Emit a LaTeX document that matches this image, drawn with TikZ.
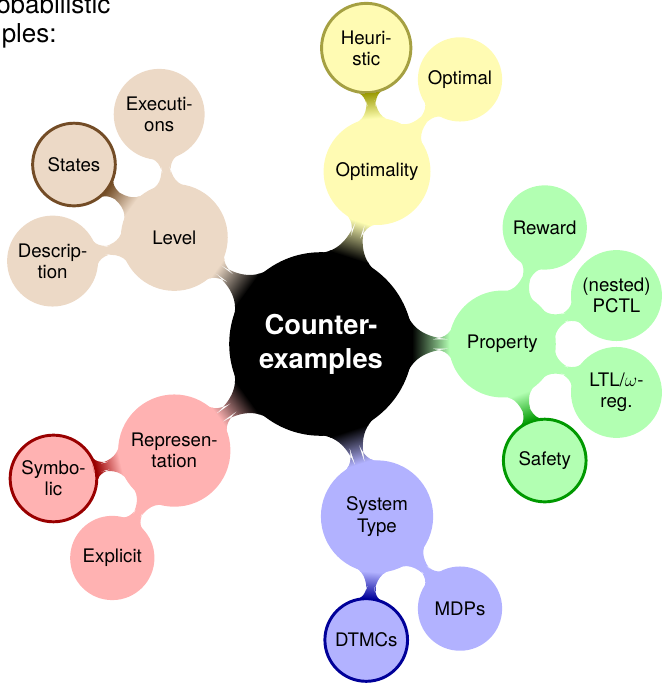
\documentclass[tikz,border=0pt]{standalone}
\usepackage{fontspec}
\setmainfont{TeX Gyre Heros}
\usetikzlibrary{mindmap,trees}

\begin{document}
\begin{tikzpicture}[x=0.75pt, y=0.75pt,
      hub/.style={concept, minimum size=136.5pt, text width=110pt, inner sep=0pt,
        align=center, text=white, font=\fontsize{20.5}{25.5}\selectfont\bfseries},
      branch/.style={concept, minimum size=#1, text width=72pt, inner sep=0pt,
        align=center, text=black, font=\fontsize{14}{16}\selectfont},
      branch/.default=79pt,
      leaf/.style={concept, minimum size=#1, text width=58pt, inner sep=0pt,
        align=center, text=black, font=\fontsize{14}{16}\selectfont},
      leaf/.default=62pt,
      ring/.style={fill=#1!30, draw=#1!60!black, line width=2.2pt},
      level 1 concept/.append style={level distance=136pt},
      level 2 concept/.append style={level distance=93pt}]
    \useasboundingbox (-321,-339) rectangle (348,344);
    % heading of the slide, cut off
    \node (head1) [anchor=base west, inner sep=0pt, font=\fontsize{19.5}{23}\selectfont] at (-325,331) {obabilistic};
    \node (head2) [anchor=base west, inner sep=0pt, font=\fontsize{19.5}{23}\selectfont] at (-319.5,302) {ples:};

    \path [mindmap, concept color=black]
      node (root) [hub] {Counter-\\examples}
      child [grow=72, concept color=yellow!30] {node (optimality) [branch] {Optimality}
        child [grow=95.5, concept color=yellow!60!black] {node (heuristic) [leaf=67pt, ring=yellow] {Heuri-\\stic}}
        child [grow=48.5] {node (optimal) [leaf] {Optimal}}
      }
      child [grow=0, concept color=green!30] {node (property) [branch] {Property}
        child [grow=70.5] {node (reward) [leaf] {Reward}}
        child [grow=23.5] {node (pctl) [leaf=67pt] {(nested)\\PCTL}}
        child [grow=-23.5] {node (ltl) [leaf=67pt] {LTL/$\omega$-\\reg.}}
        child [grow=-70.5, concept color=green!60!black] {node (safety) [leaf, ring=green] {Safety}}
      }
      child [grow=-72, concept color=blue!30] {node (systype) [branch=83pt] {System\\Type}
        child [grow=-95.5, concept color=blue!60!black] {node (dtmcs) [leaf, ring=blue] {DTMCs}}
        child [grow=-48.5] {node (mdps) [leaf] {MDPs}}
      }
      child [grow=-144, concept color=red!30] {node (repr) [branch=83pt] {Represen-\\tation}
        child [grow=-167.5, concept color=red!60!black] {node (symbolic) [leaf=65pt, ring=red] {Symbo-\\lic}}
        child [grow=-120.5] {node (explicit) [leaf] {Explicit}}
      }
      child [grow=144, concept color=brown!30] {node (level) [branch] {Level}
        child [grow=97] {node (executions) [leaf=67pt] {Executi-\\ons}}
        child [grow=144, concept color=brown!60!black] {node (states) [leaf, ring=brown] {States}}
        child [grow=191] {node (description) [leaf=67pt] {Descrip-\\tion}}
      };
  \end{tikzpicture}
\end{document}
